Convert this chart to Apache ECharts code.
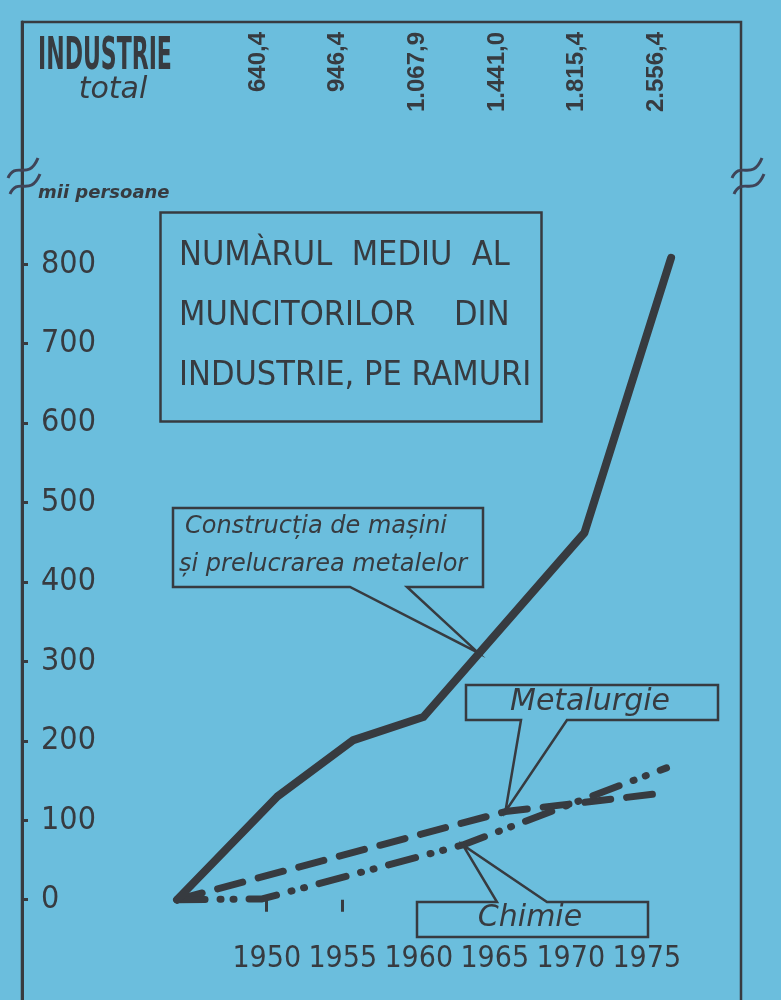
<!DOCTYPE html>
<html>
<head>
<meta charset="utf-8">
<script src="https://cdn.jsdelivr.net/npm/echarts@6/dist/echarts.min.js"></script>
<style>
html,body{margin:0;padding:0;background:#6bbedd;}
#c{width:781px;height:1000px;}
</style>
</head>
<body>
<div id="c"></div>
<script>
// ---- data ----
const yearTicks = [1950, 1955, 1960, 1965, 1970, 1975];
const industrieTotal = ['640,4', '946,4', '1.067,9', '1.441,0', '1.815,4', '2.556,4'];
const valueTicks = [0, 100, 200, 300, 400, 500, 600, 700, 800];

const constructiiYears  = [1944.1, 1950.7, 1955.7, 1960.3, 1970.9, 1976.6];
const constructiiValues = [0, 130, 201, 230, 462, 808];

const metalurgieYears  = [1944.1, 1965.7, 1976.4];
const metalurgieValues = [0, 111, 135];

const chimieYears  = [1944.1, 1949.7, 1962.9, 1976.3];
const chimieValues = [0, 1, 69, 166];

const seriesNames = ['Construcția de mașini și prelucrarea metalelor', 'Metalurgie', 'Chimie'];

// ---- styling ----
const INK = '#373b40';
const BG = '#6bbedd';
const NARROW = "'DejaVu Sans Condensed','Liberation Sans',sans-serif";
const HAND = "'DejaVu Sans','Liberation Sans',sans-serif";

const zip = (xs, ys) => xs.map((x, i) => [x, ys[i]]);

const chart = echarts.init(document.getElementById('c'), null, {renderer: 'canvas'});

const option = {
  backgroundColor: BG,
  animation: false,
  title: {
    text: 'NUMÀRUL  MEDIU  AL\nMUNCITORILOR    DIN\nINDUSTRIE, PE RAMURI',
    left: 160, top: 212,
    padding: [14, 10, 16, 19],
    borderColor: INK, borderWidth: 2.5,
    textStyle: {
      color: INK, fontFamily: NARROW, fontSize: 34, fontWeight: 'normal', lineHeight: 60
    }
  },
  grid: {
    left: 22, right: 40, top: 22, bottom: -3,
    show: true, borderColor: INK, borderWidth: 2.5, backgroundColor: 'transparent',
    outerBoundsMode: 'none'
  },
  xAxis: [
    {
      type: 'value', min: 1933.9, max: 1981.2,
      position: 'bottom', offset: -91,
      axisLine: {show: false},
      splitLine: {show: false},
      axisTick: {show: true, customValues: [1950, 1955], length: 12, lineStyle: {color: INK, width: 3}},
      axisLabel: {customValues: yearTicks, color: INK, fontFamily: NARROW, fontSize: 30, margin: 32,
                  hideOverlap: false, showMinLabel: true, showMaxLabel: true,
                  formatter: v => String(v)}
    },
    {
      type: 'value', min: 1935.2, max: 1980.3,
      position: 'top',
      axisLine: {show: false},
      splitLine: {show: false},
      axisTick: {show: false},
      axisLabel: {customValues: yearTicks, inside: true, rotate: -90, margin: 10,
                  hideOverlap: false, showMinLabel: true, showMaxLabel: true,
                  color: INK, fontFamily: "'Liberation Sans',sans-serif", fontWeight: 'bold', fontSize: 24,
                  formatter: v => industrieTotal[yearTicks.indexOf(Math.round(v))] || ''}
    }
  ],
  yAxis: {
    type: 'value', min: -130, max: 1105,
    axisLine: {show: true, lineStyle: {color: INK, width: 3}},
    splitLine: {show: false},
    axisTick: {show: true, inside: true, length: 6, customValues: valueTicks, lineStyle: {color: INK, width: 3}},
    axisLabel: {inside: true, margin: 19, customValues: valueTicks, color: INK, fontFamily: NARROW, fontSize: 32}
  },
  series: [
    {
      name: seriesNames[1], type: 'line', xAxisIndex: 0, yAxisIndex: 0,
      data: zip(metalurgieYears, metalurgieValues),
      showSymbol: false, symbol: 'none', clip: false,
      lineStyle: {color: INK, width: 7, type: [26, 16], cap: 'round', join: 'round'},
      z: 3
    },
    {
      name: seriesNames[2], type: 'line', xAxisIndex: 0, yAxisIndex: 0,
      data: zip(chimieYears, chimieValues),
      showSymbol: false, symbol: 'none', clip: false,
      lineStyle: {color: INK, width: 7, type: [28, 15, 1, 12, 1, 15], cap: 'round', join: 'round'},
      z: 3
    },
    {
      name: seriesNames[0], type: 'line', xAxisIndex: 0, yAxisIndex: 0,
      data: zip(constructiiYears, constructiiValues),
      showSymbol: false, symbol: 'none', clip: false,
      lineStyle: {color: INK, width: 8, cap: 'round', join: 'round'},
      z: 4
    }
  ]
};

chart.setOption(option);

// callout tips from data coordinates
const px = p => chart.convertToPixel({xAxisIndex: 0, yAxisIndex: 0}, p);
const tipC = px([1963.9, 311]);
const tipM = px([metalurgieYears[1], metalurgieValues[1]]);
const tipCh = px([chimieYears[2], chimieValues[2]]);

const strokeStyle = {fill: 'none', stroke: INK, lineWidth: 2.5};
const breakMark = (dx) => ([
  {type: 'bezierCurve', shape: {x1: 8 + dx, y1: 178, cpx1: 16 + dx, cpy1: 160, cpx2: 28 + dx, cpy2: 182, x2: 38 + dx, y2: 158}, style: {fill: 'none', stroke: '#3f4458', lineWidth: 3}, z: 10},
  {type: 'bezierCurve', shape: {x1: 10 + dx, y1: 194, cpx1: 18 + dx, cpy1: 176, cpx2: 30 + dx, cpy2: 198, x2: 40 + dx, y2: 174}, style: {fill: 'none', stroke: '#3f4458', lineWidth: 3}, z: 10}
]);

chart.setOption({
  graphic: [
    // header
    {type: 'text', x: 38, y: 35, scaleX: 0.79, scaleY: 1.45, style: {text: 'INDUSTRIE', fill: INK, font: "bold 31px " + NARROW, textAlign: 'left', textVerticalAlign: 'top'}},
    {type: 'text', x: 113, y: 75, style: {text: 'total', fill: INK, font: "italic 30px " + HAND, textAlign: 'center', textVerticalAlign: 'top'}},
    {type: 'text', x: 38, y: 193, style: {text: 'mii persoane', fill: INK, font: "italic bold 18px " + HAND, textAlign: 'left', textVerticalAlign: 'middle'}},
    ...breakMark(0),
    ...breakMark(724),
    // Construcția callout
    {type: 'polygon', shape: {points: [[173, 508], [483, 508], [483, 587], [407, 587], tipC, [350, 587], [173, 587]]}, style: strokeStyle, z: 5},
    {type: 'text', x: 185, y: 527, style: {text: 'Construcția de mașini', fill: INK, font: "italic 24px " + HAND, textAlign: 'left', textVerticalAlign: 'middle'}, z: 6},
    {type: 'text', x: 179, y: 565, style: {text: 'și prelucrarea metalelor', fill: INK, font: "italic 24px " + HAND, textAlign: 'left', textVerticalAlign: 'middle'}, z: 6},
    // Metalurgie callout
    {type: 'polygon', shape: {points: [[466, 685], [718, 685], [718, 720], [567, 720], tipM, [521, 720], [466, 720]]}, style: strokeStyle, z: 5},
    {type: 'text', x: 590, y: 702, style: {text: 'Metalurgie', fill: INK, font: "italic 30px " + HAND, textAlign: 'center', textVerticalAlign: 'middle'}, z: 6},
    // Chimie callout
    {type: 'polygon', shape: {points: [[417, 902], [497, 902], tipCh, [547, 902], [648, 902], [648, 937], [417, 937]]}, style: strokeStyle, z: 5},
    {type: 'text', x: 530, y: 918, style: {text: 'Chimie', fill: INK, font: "italic 30px " + HAND, textAlign: 'center', textVerticalAlign: 'middle'}, z: 6}
  ]
});
</script>
</body>
</html>
